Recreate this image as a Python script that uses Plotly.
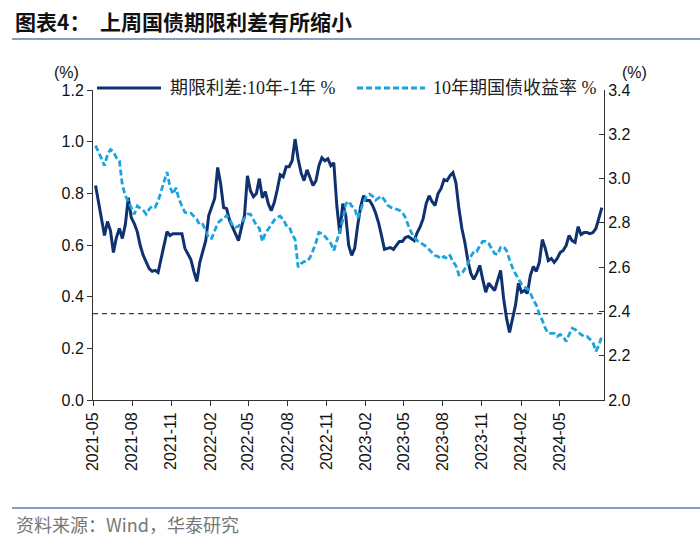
import pandas as pd
import plotly.graph_objects as go

# ---------------- data (weekly readings) ----------------
dates = pd.date_range("2021-05-07", periods=171, freq="7D")

spread_10y_1y = [
    0.830, 0.768, 0.695, 0.637, 0.691, 0.656, 0.571, 0.629, 0.664, 0.625,
    0.679, 0.783, 0.706, 0.683, 0.652, 0.598, 0.560, 0.533, 0.509, 0.498,
    0.502, 0.494, 0.548, 0.590, 0.652, 0.637, 0.644, 0.644, 0.644, 0.644,
    0.587, 0.563, 0.544, 0.498, 0.459, 0.533, 0.579, 0.617, 0.714, 0.749,
    0.780, 0.900, 0.837, 0.745, 0.741, 0.695, 0.671, 0.641, 0.617, 0.668,
    0.714, 0.868, 0.810, 0.787, 0.799, 0.857, 0.783, 0.807, 0.760, 0.733,
    0.764, 0.814, 0.872, 0.864, 0.903, 0.903, 0.926, 1.010, 0.934, 0.880,
    0.849, 0.891, 0.857, 0.830, 0.849, 0.907, 0.938, 0.926, 0.934, 0.907,
    0.918, 0.753, 0.644, 0.760, 0.714, 0.598, 0.560, 0.587, 0.675, 0.749,
    0.791, 0.772, 0.772, 0.753, 0.725, 0.687, 0.637, 0.583, 0.587, 0.590,
    0.583, 0.598, 0.614, 0.614, 0.629, 0.633, 0.625, 0.617, 0.648, 0.671,
    0.702, 0.760, 0.791, 0.768, 0.753, 0.799, 0.818, 0.853, 0.849, 0.868,
    0.880, 0.841, 0.741, 0.664, 0.610, 0.540, 0.490, 0.467, 0.490, 0.521,
    0.467, 0.417, 0.452, 0.436, 0.424, 0.463, 0.502, 0.394, 0.316, 0.262,
    0.309, 0.367, 0.452, 0.417, 0.424, 0.413, 0.482, 0.517, 0.498, 0.533,
    0.621, 0.587, 0.540, 0.548, 0.533, 0.548, 0.571, 0.579, 0.598, 0.637,
    0.617, 0.610, 0.671, 0.641, 0.648, 0.648, 0.644, 0.648, 0.664, 0.702,
    0.745,
]

yield_10y = [
    3.149, 3.122, 3.090, 3.058, 3.108, 3.131, 3.122, 3.094, 3.081, 2.971,
    2.921, 2.898, 2.866, 2.839, 2.876, 2.866, 2.857, 2.839, 2.862, 2.876,
    2.871, 2.898, 2.944, 2.980, 3.030, 2.962, 2.930, 2.958, 2.907, 2.876,
    2.848, 2.844, 2.844, 2.830, 2.816, 2.789, 2.793, 2.766, 2.730, 2.730,
    2.766, 2.798, 2.812, 2.816, 2.834, 2.816, 2.789, 2.780, 2.784, 2.803,
    2.821, 2.839, 2.839, 2.812, 2.789, 2.775, 2.716, 2.752, 2.771, 2.793,
    2.812, 2.825, 2.830, 2.816, 2.789, 2.784, 2.748, 2.725, 2.600, 2.616,
    2.625, 2.625, 2.643, 2.675, 2.711, 2.757, 2.752, 2.739, 2.725, 2.707,
    2.675, 2.716, 2.762, 2.812, 2.885, 2.898, 2.876, 2.866, 2.821, 2.857,
    2.894, 2.921, 2.930, 2.921, 2.903, 2.912, 2.921, 2.903, 2.880, 2.871,
    2.866, 2.862, 2.857, 2.848, 2.825, 2.789, 2.757, 2.734, 2.720, 2.711,
    2.702, 2.693, 2.679, 2.666, 2.652, 2.648, 2.638, 2.648, 2.638, 2.652,
    2.625, 2.606, 2.565, 2.570, 2.593, 2.616, 2.648, 2.670, 2.670, 2.698,
    2.716, 2.716, 2.707, 2.684, 2.661, 2.657, 2.689, 2.693, 2.675, 2.634,
    2.597, 2.570, 2.547, 2.524, 2.511, 2.502, 2.483, 2.451, 2.429, 2.388,
    2.360, 2.324, 2.301, 2.301, 2.301, 2.287, 2.296, 2.287, 2.264, 2.296,
    2.324, 2.319, 2.306, 2.296, 2.287, 2.287, 2.274, 2.260, 2.220, 2.246,
    2.290,
]

ref_yield_level = 2.39

x_tick_vals = ["2021-05-01", "2021-08-01", "2021-11-01", "2022-02-01", "2022-05-01",
               "2022-08-01", "2022-11-01", "2023-02-01", "2023-05-01", "2023-08-01",
               "2023-11-01", "2024-02-01", "2024-05-01"]
x_tick_text = ["2021-05", "2021-08", "2021-11", "2022-02", "2022-05", "2022-08",
               "2022-11", "2023-02", "2023-05", "2023-08", "2023-11", "2024-02", "2024-05"]

name_spread = "期限利差:10年-1年 %"
name_yield = "10年期国债收益率 %"

# ---------------- styling ----------------
DARK = "#0f3170"
LIGHT = "#1aa3df"
W, H = 700, 547
L, R, T, B = 93, 96, 90, 147
PW, PH = W - L - R, H - T - B


def px(xp):
    return (xp - L) / PW


def py(yp):
    return (H - B - yp) / PH


fig = go.Figure()

fig.add_trace(go.Scatter(
    x=dates, y=spread_10y_1y, name=name_spread, mode="lines",
    line=dict(color=DARK, width=3), showlegend=False))

fig.add_trace(go.Scatter(
    x=dates, y=yield_10y, name=name_yield, mode="lines", yaxis="y2",
    line=dict(color=LIGHT, width=2.8, dash="6px,3px"), showlegend=False))

tick_font = dict(family="Liberation Sans, Arial, sans-serif", size=16, color="#111")
legend_font = dict(family="Liberation Serif, Noto Sans CJK SC, serif", size=18, color="#222")

fig.update_layout(
    width=W, height=H,
    margin=dict(l=L, r=R, t=T, b=B),
    paper_bgcolor="white", plot_bgcolor="white",
    xaxis=dict(
        type="date", range=["2021-05-01", "2024-08-14"],
        tickvals=x_tick_vals, ticktext=x_tick_text, tickangle=-90,
        showgrid=False, zeroline=False, showline=True, linecolor="#333", linewidth=1,
        ticks="outside", ticklen=5, tickcolor="#333", tickfont=tick_font,
    ),
    yaxis=dict(
        range=[0, 1.2], dtick=0.2, tickformat=".1f",
        showgrid=False, zeroline=False, showline=True, linecolor="#333", linewidth=1,
        ticks="outside", ticklen=5, tickcolor="#333", tickfont=tick_font,
    ),
    yaxis2=dict(
        range=[2.0, 3.4], dtick=0.2, tickformat=".1f", overlaying="y", side="right",
        showgrid=False, zeroline=False, showline=True, linecolor="#333", linewidth=1,
        ticks="inside", ticklen=5, tickcolor="#333", tickfont=tick_font,
    ),
)

shapes = [
    dict(type="line", xref="paper", yref="y2", x0=0, x1=1, y0=ref_yield_level, y1=ref_yield_level,
         line=dict(color="#1f3f7a", width=1.2, dash="5px,4px"), layer="below"),
    dict(type="line", xref="paper", yref="paper", x0=px(12), x1=px(700), y0=py(39), y1=py(39),
         line=dict(color="#5b7fb5", width=1.5)),
    dict(type="line", xref="paper", yref="paper", x0=px(12), x1=px(700), y0=py(508), y1=py(508),
         line=dict(color="#5b7fb5", width=1.5)),
    dict(type="line", xref="paper", yref="paper", x0=px(97), x1=px(161), y0=py(88), y1=py(88),
         line=dict(color=DARK, width=3)),
    dict(type="line", xref="paper", yref="paper", x0=px(357), x1=px(425), y0=py(88), y1=py(88),
         line=dict(color=LIGHT, width=2.8, dash="6px,3px")),
]

annotations = [
    dict(text="<b>图表4：  上周国债期限利差有所缩小</b>", xref="paper", yref="paper",
         x=px(13), y=py(21), xanchor="left", yanchor="middle", showarrow=False,
         font=dict(family="Noto Sans CJK SC, sans-serif", size=21, color="#111")),
    dict(text="资料来源：Wind，华泰研究", xref="paper", yref="paper",
         x=px(14), y=py(524), xanchor="left", yanchor="middle", showarrow=False,
         font=dict(family="Noto Sans CJK SC, sans-serif", size=18, color="#777")),
    dict(text=name_spread, xref="paper", yref="paper", x=px(168), y=py(88),
         xanchor="left", yanchor="middle", showarrow=False, font=legend_font),
    dict(text=name_yield, xref="paper", yref="paper", x=px(431), y=py(88),
         xanchor="left", yanchor="middle", showarrow=False, font=legend_font),
    dict(text="(%)", xref="paper", yref="paper", x=px(66), y=py(73),
         xanchor="center", yanchor="middle", showarrow=False, font=tick_font),
    dict(text="(%)", xref="paper", yref="paper", x=px(634), y=py(73),
         xanchor="center", yanchor="middle", showarrow=False, font=tick_font),
]

fig.update_layout(shapes=shapes, annotations=annotations)

fig.write_html("out.html")
